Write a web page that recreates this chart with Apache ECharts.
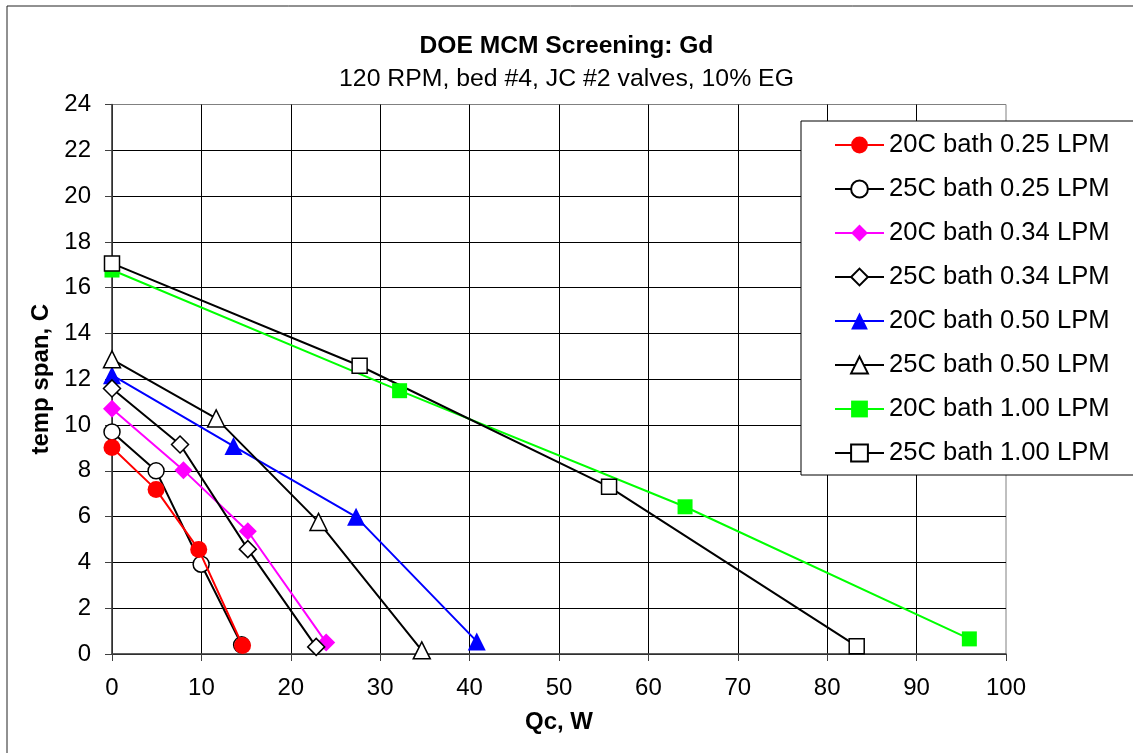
<!DOCTYPE html>
<html>
<head>
<meta charset="utf-8">
<script src="https://cdn.jsdelivr.net/npm/echarts@6/dist/echarts.min.js"></script>
<style>
  html, body { margin: 0; padding: 0; background: #fff; }
  #chart { width: 1133px; height: 753px; }
</style>
</head>
<body>
<div id="chart"></div>
<script>
// Qc (W) and temp span (C) per run
const qc20_025 = [0, 4.93, 9.7, 14.6]
const span20_025 = [9.02, 7.18, 4.56, 0.37]
const qc25_025 = [0, 4.93, 9.97, 14.5]
const span25_025 = [9.7, 8.0, 3.92, 0.4]
const qc20_034 = [0, 7.99, 15.19, 23.96]
const span20_034 = [10.71, 8.03, 5.36, 0.5]
const qc25_034 = [0, 7.61, 15.19, 22.84]
const span25_034 = [11.6, 9.15, 4.58, 0.31]
const qc20_050 = [0, 13.59, 27.3, 40.8]
const span20_050 = [12.18, 9.08, 5.99, 0.55]
const qc25_050 = [0, 11.65, 23.1, 34.65]
const span25_050 = [12.87, 10.29, 5.77, 0.16]
const qc20_100 = [0, 32.17, 64.1, 95.9]
const span20_100 = [16.77, 11.5, 6.43, 0.66]
const qc25_100 = [0, 27.7, 55.6, 83.3]
const span25_100 = [17.06, 12.59, 7.3, 0.34]

const xTicks = [0, 10, 20, 30, 40, 50, 60, 70, 80, 90, 100]
const yTicks = [0, 2, 4, 6, 8, 10, 12, 14, 16, 18, 20, 22, 24]

const font = "'Liberation Sans', Arial, sans-serif"

const pairs = (xs, ys) => xs.map((x, i) => [x, ys[i]])

const makeSeries = (name, xs, ys, symbol, size, color, open, z) => ({
  name,
  type: 'line',
  data: pairs(xs, ys),
  symbol,
  symbolSize: size,
  z: z || 2,
  lineStyle: { color, width: 2 },
  itemStyle: open
    ? { color: '#fff', borderColor: '#000', borderWidth: 1.5 }
    : { color, borderWidth: 0 },
  emphasis: { disabled: true },
  animation: false
})

const chart = echarts.init(document.getElementById('chart'))

chart.setOption({
  animation: false,
  textStyle: { fontFamily: font },
  graphic: [{
    type: 'rect',
    shape: { x: 7, y: 6, width: 1200, height: 800 },
    style: { fill: 'none', stroke: '#222', lineWidth: 1 },
    silent: true,
    z: -1
  }],
  title: {
    text: 'DOE MCM Screening: Gd',
    subtext: '120 RPM, bed #4, JC #2 valves, 10% EG',
    left: 'center',
    top: 29,
    itemGap: 8,
    textStyle: { fontFamily: font, fontSize: 24.6, fontWeight: 'bold', color: '#000' },
    subtextStyle: { fontFamily: font, fontSize: 24.8, color: '#000' }
  },
  grid: {
    left: 112,
    top: 104.5,
    right: 127,
    bottom: 99,
    show: true,
    borderColor: '#808080',
    borderWidth: 1,
    backgroundColor: '#fff'
  },
  legend: {
    orient: 'vertical',
    left: 801,
    top: 121,
    padding: [11, 40, 9, 33],
    itemGap: 18,
    itemWidth: 49,
    itemHeight: 21,
    backgroundColor: '#fff',
    borderColor: '#000',
    borderWidth: 1,
    textStyle: { fontFamily: font, fontSize: 25.6, color: '#000' },
    data: [
      '20C bath 0.25 LPM', '25C bath 0.25 LPM', '20C bath 0.34 LPM', '25C bath 0.34 LPM',
      '20C bath 0.50 LPM', '25C bath 0.50 LPM', '20C bath 1.00 LPM', '25C bath 1.00 LPM'
    ]
  },
  xAxis: {
    type: 'value',
    min: xTicks[0],
    max: xTicks[xTicks.length - 1],
    interval: 10,
    name: 'Qc, W',
    nameLocation: 'middle',
    nameGap: 56,
    nameTextStyle: { fontFamily: font, fontSize: 24, fontWeight: 'bold', color: '#000' },
    axisLine: { show: true, onZero: false, lineStyle: { color: '#404040', width: 1.5 } },
    axisTick: { show: true, inside: false, length: 7, lineStyle: { color: '#404040' } },
    axisLabel: { margin: 22, fontFamily: font, fontSize: 24, color: '#000' },
    splitLine: { show: true, showMaxLine: false, lineStyle: { color: '#000', width: 1 } }
  },
  yAxis: {
    type: 'value',
    min: yTicks[0],
    max: yTicks[yTicks.length - 1],
    interval: 2,
    name: 'temp span, C',
    nameLocation: 'middle',
    nameGap: 54,
    nameTextStyle: { fontFamily: font, fontSize: 24, fontWeight: 'bold', color: '#000' },
    axisLine: { show: true, onZero: false, lineStyle: { color: '#404040', width: 1.5 } },
    axisTick: { show: true, inside: false, length: 7, lineStyle: { color: '#404040' } },
    axisLabel: { margin: 21, fontFamily: font, fontSize: 24, color: '#000' },
    splitLine: { show: true, showMaxLine: false, lineStyle: { color: '#000', width: 1 } }
  },
  series: [
    makeSeries('20C bath 0.25 LPM', qc20_025, span20_025, 'circle', 17, '#ff0000', false, 5),
    makeSeries('25C bath 0.25 LPM', qc25_025, span25_025, 'circle', 16, '#000', true),
    makeSeries('20C bath 0.34 LPM', qc20_034, span20_034, 'diamond', 18, '#ff00ff', false),
    makeSeries('25C bath 0.34 LPM', qc25_034, span25_034, 'diamond', 17, '#000', true, 3),
    makeSeries('20C bath 0.50 LPM', qc20_050, span20_050, 'triangle', 18, '#0000ff', false),
    makeSeries('25C bath 0.50 LPM', qc25_050, span25_050, 'triangle', 17, '#000', true),
    makeSeries('20C bath 1.00 LPM', qc20_100, span20_100, 'rect', 15, '#00ff00', false),
    makeSeries('25C bath 1.00 LPM', qc25_100, span25_100, 'rect', 15, '#000', true)
  ]
})
</script>
</body>
</html>
